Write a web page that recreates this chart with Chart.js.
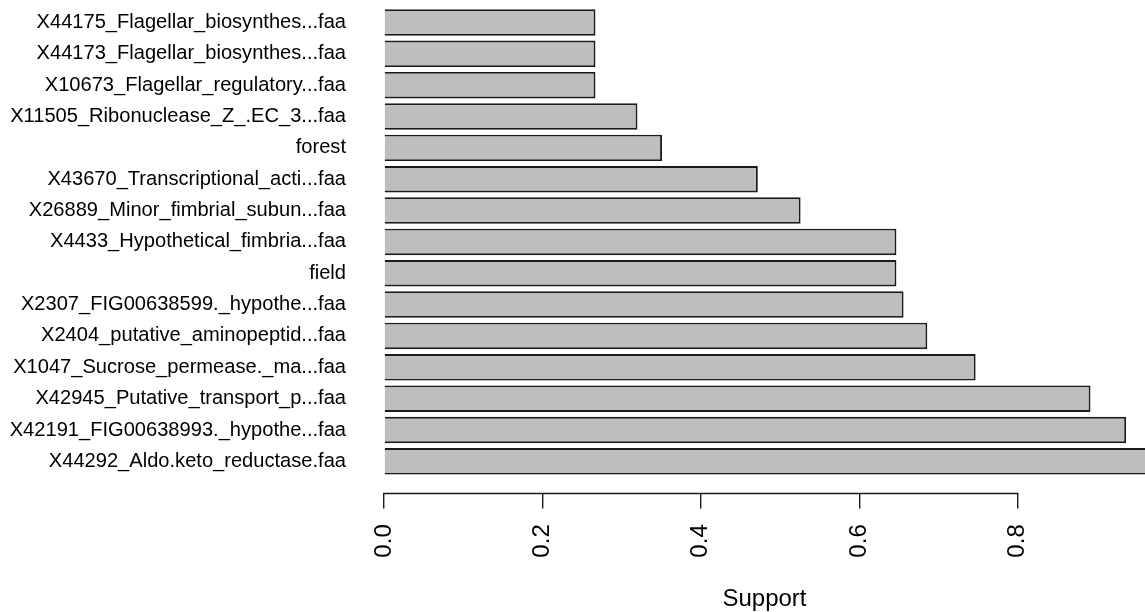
<!DOCTYPE html>
<html>
<head>
<meta charset="utf-8">
<script src="https://cdn.jsdelivr.net/npm/chart.js@4/dist/chart.umd.min.js"></script>
<style>
  html, body { margin: 0; padding: 0; background: #ffffff; overflow: hidden; }
  #wrap { width: 1145px; height: 612px; position: relative; }
</style>
</head>
<body>
<div id="wrap"><canvas id="c" width="1145" height="612"></canvas></div>
<script>
const categories = [
  "X44175_Flagellar_biosynthes...faa",
  "X44173_Flagellar_biosynthes...faa",
  "X10673_Flagellar_regulatory...faa",
  "X11505_Ribonuclease_Z_.EC_3...faa",
  "forest",
  "X43670_Transcriptional_acti...faa",
  "X26889_Minor_fimbrial_subun...faa",
  "X4433_Hypothetical_fimbria...faa",
  "field",
  "X2307_FIG00638599._hypothe...faa",
  "X2404_putative_aminopeptid...faa",
  "X1047_Sucrose_permease._ma...faa",
  "X42945_Putative_transport_p...faa",
  "X42191_FIG00638993._hypothe...faa",
  "X44292_Aldo.keto_reductase.faa"
];
const supportValues = [0.267, 0.267, 0.267, 0.320, 0.351, 0.472, 0.526, 0.647, 0.647, 0.656, 0.686, 0.747, 0.892, 0.937, 1.0];
const xTickValues = [0, 0.2, 0.4, 0.6, 0.8];
const xTickLabels = ["0.0", "0.2", "0.4", "0.6", "0.8"];
const xTitle = "Support";

const FONT = "'Liberation Sans', Arial, Helvetica, sans-serif";
const AXIS_COLOR = "#1a1a1a";

const axisLinePlugin = {
  id: 'rAxisLine',
  afterDraw(chart) {
    const xs = chart.scales.x;
    const pos = xs.options.position;
    const key = Object.keys(pos)[0];
    const yPix = Math.round(chart.scales[key].getPixelForValue(pos[key])) + 0.5;
    const first = xs.ticks[0].value, last = xs.ticks[xs.ticks.length - 1].value;
    const ctx = chart.ctx;
    ctx.save();
    ctx.strokeStyle = AXIS_COLOR;
    ctx.lineWidth = 1.4;
    ctx.beginPath();
    ctx.moveTo(xs.getPixelForValue(first) - 0.7, yPix);
    ctx.lineTo(xs.getPixelForValue(last) + 0.7, yPix);
    ctx.stroke();
    ctx.restore();
  }
};

new Chart(document.getElementById('c'), {
  type: 'bar',
  data: {
    labels: categories,
    datasets: [{
      data: supportValues,
      backgroundColor: '#BEBEBE',
      borderColor: AXIS_COLOR,
      borderWidth: 1.9,
      categoryPercentage: 1.0,
      barPercentage: 0.845
    }]
  },
  options: {
    indexAxis: 'y',
    responsive: false,
    animation: false,
    layout: { padding: { top: 6.83, bottom: 135, left: 0, right: 0 } },
    plugins: { legend: { display: false }, tooltip: { enabled: false }, title: { display: false } },
    scales: {
      y: {
        type: 'category',
        offset: true,
        grid: { display: false, drawTicks: false },
        border: { display: false },
        ticks: {
          color: '#000',
          padding: 38,
          font: { family: FONT, size: 20.1 },
          autoSkip: false
        },
        afterFit(scale) {
          scale.width = 384;
          scale.paddingTop = 0;
          scale.paddingBottom = 0;
        }
      },
      x: {
        type: 'linear',
        position: { y: 15 },
        min: 0,
        max: (1145 - 384) / 792,
        grid: {
          drawOnChartArea: false,
          drawTicks: true,
          tickLength: 15.6,
          color: AXIS_COLOR,
          lineWidth: 1.4
        },
        border: { display: false },
        afterBuildTicks(scale) {
          scale.ticks = xTickValues.map(v => ({ value: v }));
        },
        ticks: {
          color: '#000',
          minRotation: 90,
          maxRotation: 90,
          padding: 16,
          autoSkip: false,
          includeBounds: false,
          font: { family: FONT, size: 24 },
          callback: (value, index) => xTickLabels[index]
        },
        title: {
          display: true,
          text: xTitle,
          color: '#000',
          font: { family: FONT, size: 24 },
          padding: { top: 11, bottom: 0 }
        },
        afterFit(scale) {
          scale.paddingLeft = 0;
          scale.paddingRight = 0;
        }
      }
    }
  },
  plugins: [axisLinePlugin]
});
</script>
</body>
</html>
